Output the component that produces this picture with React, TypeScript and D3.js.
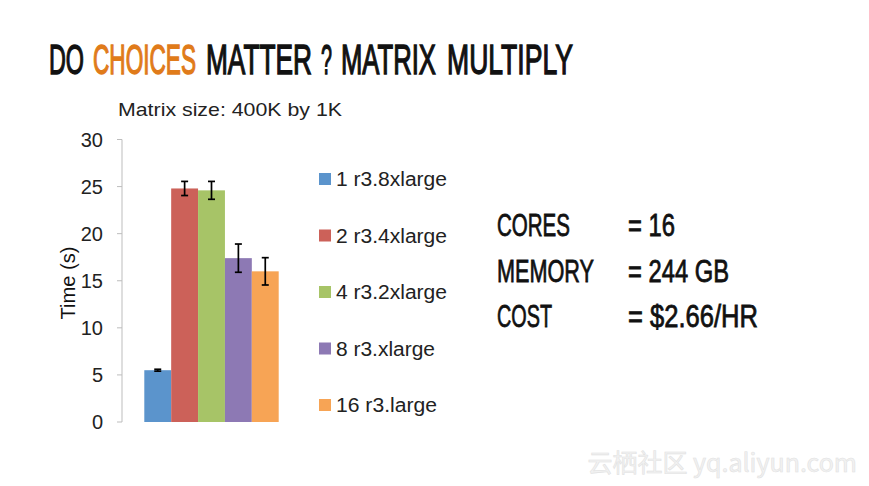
import React, { useLayoutEffect, useRef, useState } from "react";
import * as d3 from "d3";

const series = ["1 r3.8xlarge", "2 r3.4xlarge", "4 r3.2xlarge", "8 r3.xlarge", "16 r3.large"];
const values = [5.5, 24.8, 24.6, 17.4, 16.0];
const errors = [0.1, 0.75, 0.95, 1.5, 1.45];
const colors = ["#5b94cc", "#cc6159", "#a7c467", "#8d79b4", "#f7a455"];
const legendWidths = [111, 111, 111, 99, 101];
const yTicks = [0, 5, 10, 15, 20, 25, 30];
const titleWords = [
  { t: "DO", c: "#111", x0: 49, x1: 84 },
  { t: "CHOICES", c: "#e07b1a", x0: 93, x1: 196 },
  { t: "MATTER", c: "#111", x0: 206, x1: 312 },
  { t: "?", c: "#111", x0: 321, x1: 332 },
  { t: "MATRIX", c: "#111", x0: 341, x1: 436 },
  { t: "MULTIPLY", c: "#111", x0: 447, x1: 573 },
];
const specLabels = ["CORES", "MEMORY", "COST"];
const specValues = ["= 16", "= 244 GB", "= $2.66/HR"];
const specLabelW = [73, 97, 55];
const specValueW = [47, 101, 130];

function FitText(props: any) {
  const { x, y, width, children, ...rest } = props;
  const ref = useRef<SVGTextElement>(null);
  const [s, setS] = useState(1);
  useLayoutEffect(() => {
    if (ref.current) {
      const w = ref.current.getComputedTextLength();
      if (w > 0) setS(width / w);
    }
  }, [width, children]);
  return (
    <text ref={ref} transform={`translate(${x},${y}) scale(${s},1)`} {...rest}>{children}</text>
  );
}

export default function App() {
  const W = 869, H = 486;
  const y = d3.scaleLinear().domain([0, 30]).range([422, 139.5]);
  const x = d3.scaleBand<string>().domain(series).range([144.3, 278.7]).padding(0);
  const axisX = 122;
  const font = "'Liberation Sans', Arial, Helvetica, sans-serif";
  const legendY = (i: number) => 179 + i * 56.5;

  return (
    <svg width={W} height={H} style={{ position: "absolute", left: 0, top: 0, background: "#fff" }}>
      <rect width={W} height={H} fill="#fff" />
      {/* Title */}
      {titleWords.map((w) => (
        <FitText key={w.t} x={w.x0} y={74} width={w.x1 - w.x0} fontFamily={font} fontSize={43}
          fill={w.c} stroke={w.c} strokeWidth={1.4}>{w.t}</FitText>
      ))}
      {/* Subtitle */}
      <text x={118} y={116} fontFamily={font} fontSize={19} fill="#222"
        textLength={224} lengthAdjust="spacingAndGlyphs">Matrix size: 400K by 1K</text>
      {/* Y axis */}
      <line x1={axisX} x2={axisX} y1={y(30)} y2={y(0)} stroke="#bdbdbd" strokeWidth={1} />
      {yTicks.map((t) => (
        <g key={t}>
          <line x1={axisX - 5} x2={axisX} y1={y(t)} y2={y(t)} stroke="#bdbdbd" />
          <text x={103} y={y(t)} dy="0.36em" textAnchor="end" fontFamily={font} fontSize={20} fill="#222">{t}</text>
        </g>
      ))}
      <text transform={`translate(75,${283}) rotate(-90)`} textAnchor="middle" fontFamily={font} fontSize={21} fill="#111"
        textLength={73} lengthAdjust="spacingAndGlyphs">Time (s)</text>
      {/* Bars */}
      {series.map((s, i) => (
        <rect key={s} x={x(s)} y={y(values[i])} width={x.bandwidth()} height={y(0) - y(values[i])} fill={colors[i]} />
      ))}
      {/* Error bars */}
      {series.map((s, i) => {
        const cx = (x(s) as number) + x.bandwidth() / 2;
        const y1 = y(values[i] + errors[i]);
        const y2 = y(values[i] - errors[i]);
        return (
          <g key={s} stroke="#000" strokeWidth={1.7}>
            <line x1={cx} x2={cx} y1={y1} y2={y2} />
            <line x1={cx - 3.5} x2={cx + 3.5} y1={y1} y2={y1} />
            <line x1={cx - 3.5} x2={cx + 3.5} y1={y2} y2={y2} />
          </g>
        );
      })}
      {/* Legend */}
      {series.map((s, i) => (
        <g key={s}>
          <rect x={319} y={legendY(i) - 6} width={12} height={12} fill={colors[i]} />
          <text x={336} y={legendY(i)} dy="0.36em" fontFamily={font} fontSize={19.5} fill="#222"
            textLength={legendWidths[i]} lengthAdjust="spacingAndGlyphs">{s}</text>
        </g>
      ))}
      {/* Specs */}
      {specLabels.map((l, i) => (
        <g key={l} stroke="#111" strokeWidth={0.8}>
          <text x={497} y={236 + i * 45.5} fontFamily={font} fontSize={32} fill="#111"
            textLength={specLabelW[i]} lengthAdjust="spacingAndGlyphs">{l}</text>
          <text x={628} y={236 + i * 45.5} fontFamily={font} fontSize={32} fill="#111"
            textLength={specValueW[i]} lengthAdjust="spacingAndGlyphs">{specValues[i]}</text>
        </g>
      ))}
      {/* Watermark */}
      <text x={857} y={472} textAnchor="end" fontFamily="'Noto Sans CJK SC', sans-serif" fontSize={25}
        fill="#f2f2f2" stroke="#e2e2e2" strokeWidth={0.6}>云栖社区 yq.aliyun.com</text>
    </svg>
  );
}
